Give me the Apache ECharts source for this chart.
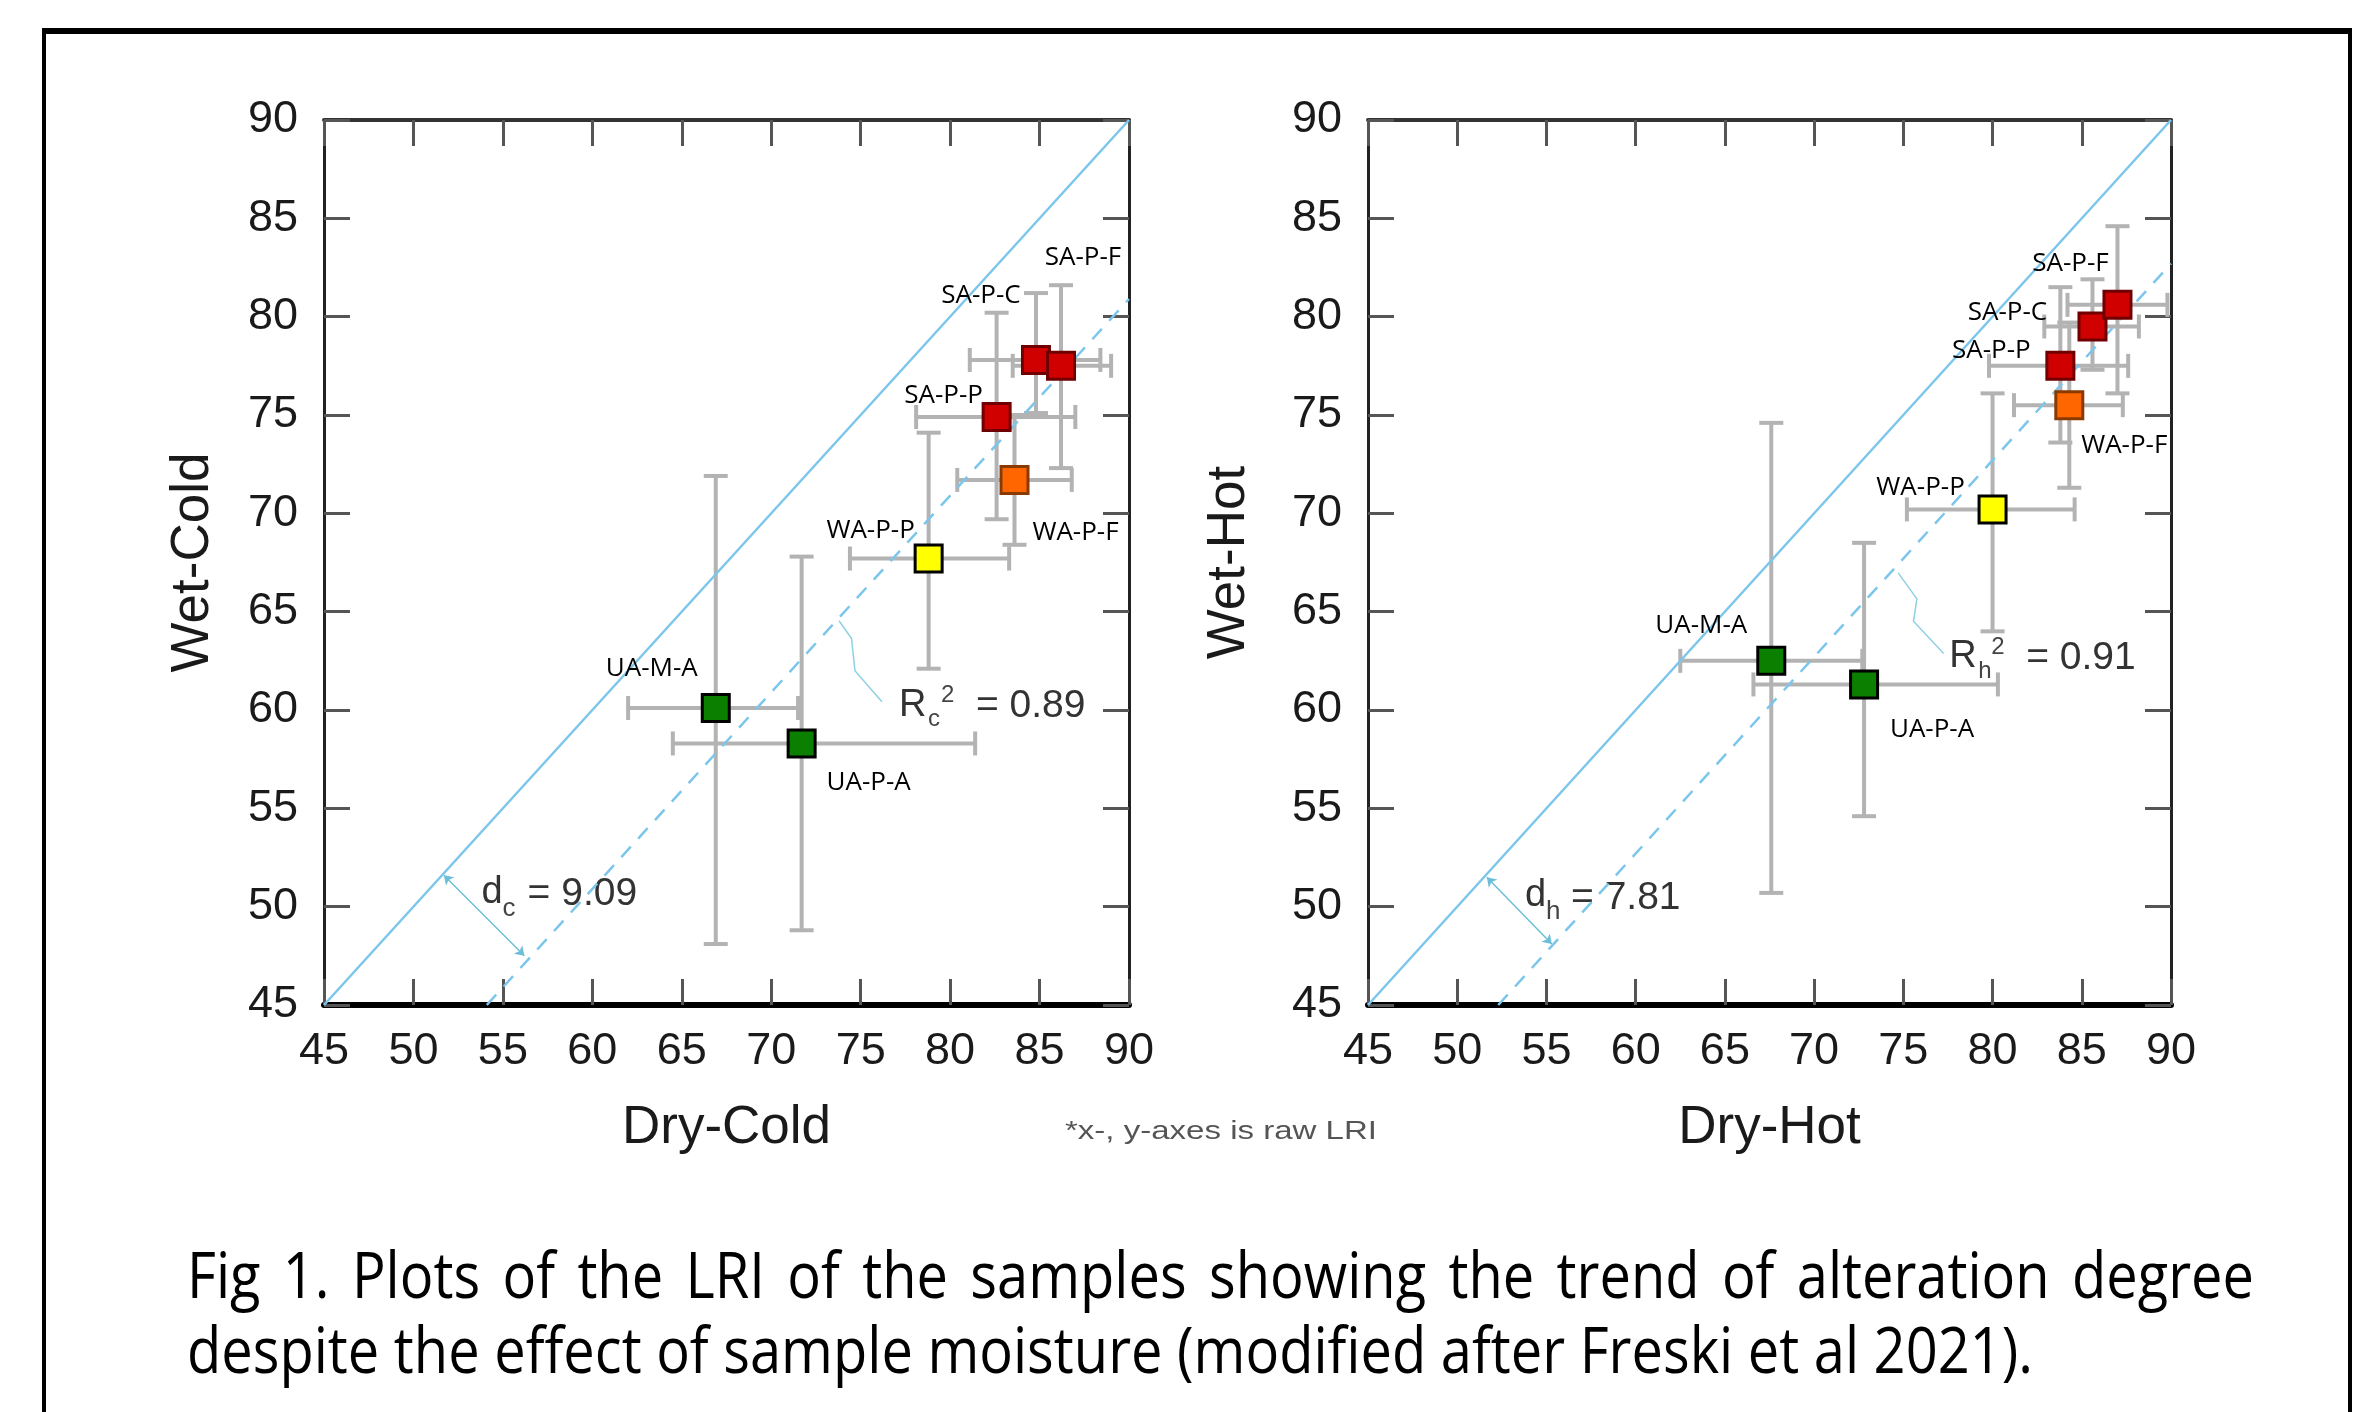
<!DOCTYPE html>
<html><head><meta charset="utf-8">
<script src="https://cdn.jsdelivr.net/npm/echarts/dist/echarts.min.js"></script>
<style>html,body{margin:0;padding:0;background:#fff;}#c{width:2366px;height:1412px;}</style>
</head><body><div id="c"></div>
<script>
// ---------- data ----------
const samples = ['UA-M-A','UA-P-A','WA-P-P','WA-P-F','SA-P-P','SA-P-C','SA-P-F'];
const sampleColors = ['#0b7f00','#0b7f00','#ffff00','#ff6600','#d10000','#d10000','#d10000'];
const sampleBorders = ['#000','#000','#000','#8a3a00','#700000','#700000','#700000'];

// Cold plot
const dryCold        = [66.9, 71.7, 78.8, 83.6, 82.6, 84.8, 86.2];
const wetCold        = [60.1, 58.3, 67.7, 71.7, 74.9, 77.8, 77.5];
const dryColdErrLow  = [62.0, 64.5, 74.4, 80.4, 78.1, 81.1, 83.5];
const dryColdErrHigh = [71.5, 81.4, 83.3, 86.8, 87.0, 88.4, 89.0];
const wetColdErrLow  = [48.1, 48.8, 62.1, 68.4, 69.7, 75.1, 72.3];
const wetColdErrHigh = [71.9, 67.8, 74.1, 75.0, 80.2, 81.2, 81.6];
const coldTrendOffset = 9.1;

// Hot plot
const dryHot        = [67.6, 72.8, 80.0, 84.3, 83.8, 85.6, 87.0];
const wetHot        = [62.5, 61.3, 70.2, 75.5, 77.5, 79.5, 80.6];
const dryHotErrLow  = [62.5, 66.6, 75.2, 81.2, 79.8, 82.9, 84.2];
const dryHotErrHigh = [72.7, 80.3, 84.6, 87.3, 87.6, 88.2, 89.8];
const wetHotErrLow  = [50.7, 54.6, 64.0, 71.3, 73.6, 77.3, 76.1];
const wetHotErrHigh = [74.6, 68.5, 76.1, 79.7, 81.5, 81.9, 84.6];
const hotTrendOffset = 7.3;

const axisMin = 45, axisMax = 90, axisStep = 5;
const xNames = ['Dry-Cold','Dry-Hot'];
const yNames = ['Wet-Cold','Wet-Hot'];

// annotation anchors (data coords)
const dArrowCold = [[51.7, 51.6],[56.2, 47.5]];
const dArrowHot  = [[51.66, 51.5],[55.3, 48.1]];
const rCurveCold = [[76.19, 60.42],[74.68, 62.0],[74.49, 63.63],[73.79, 64.54]];
const rCurveHot  = [[77.26, 62.87],[75.57, 64.51],[75.76, 65.65],[74.71, 66.97]];
const dTextAnchor = [[53.81, 50.71],[53.80, 50.55]];
const rTextAnchor = [[77.14, 60.22],[77.57, 62.70]];
const dTexts = [['d','c','= 9.09'],['d','h','= 7.81']];
const rTexts = [['R','c','2','= 0.89'],['R','h','2','= 0.91']];

const footnote = '*x-, y-axes is raw LRI';
const captionLines = ['Fig 1. Plots of the LRI of the samples showing the trend of alteration degree',
                      'despite the effect of sample moisture (modified after Freski et al 2021).'];

// label offsets (layout, px)
const labelOffsets = [
  [[-64,-39],[67,39],[-58,-28],[61,53],[-53,-21],[-55,-64],[22,-108]],
  [[-70,-35],[68,45],[-72,-22],[55,40],[-69,-15],[-85,-14],[-47,-41]]
];

// ---------- build ----------
const chart = echarts.init(document.getElementById('c'));
const FONT = 'Liberation Sans';
const grids = [
  {left: 324, top: 120, width: 805, height: 885},
  {left: 1368, top: 120, width: 803, height: 885}
];
const xAxes = [], yAxes = [], series = [];
const plots = [
  {dx: dryCold, wy: wetCold, xl: dryColdErrLow, xh: dryColdErrHigh, yl: wetColdErrLow, yh: wetColdErrHigh, off: coldTrendOffset, dArrow: dArrowCold, rCurve: rCurveCold},
  {dx: dryHot, wy: wetHot, xl: dryHotErrLow, xh: dryHotErrHigh, yl: wetHotErrLow, yh: wetHotErrHigh, off: hotTrendOffset, dArrow: dArrowHot, rCurve: rCurveHot}
];

function errRender(params, api) {
  const x = api.value(0), y = api.value(1);
  const p = api.coord([x, y]);
  const xl = api.coord([api.value(2), y])[0];
  const xh = api.coord([api.value(3), y])[0];
  const yl = api.coord([x, api.value(4)])[1];
  const yh = api.coord([x, api.value(5)])[1];
  const c = 12;
  const style = {stroke: '#b3b3b3', lineWidth: 4};
  const L = (x1,y1,x2,y2) => ({type:'line', shape:{x1,y1,x2,y2}, style});
  return {type:'group', children:[
    L(xl,p[1],xh,p[1]), L(xl,p[1]-c,xl,p[1]+c), L(xh,p[1]-c,xh,p[1]+c),
    L(p[0],yl,p[0],yh), L(p[0]-c,yl,p[0]+c,yl), L(p[0]-c,yh,p[0]+c,yh)
  ]};
}

plots.forEach((pl, i) => {
  const axBase = {gridIndex: i, type: 'value', min: axisMin, max: axisMax, interval: axisStep, splitLine: {show: false}};
  xAxes.push(Object.assign({}, axBase, {
    position: 'bottom',
    axisLine: {show: true, onZero: false, lineStyle: {color: '#000', width: 6}},
    axisTick: {show: true, inside: true, length: 26, lineStyle: {color: '#555', width: 3}},
    axisLabel: {fontSize: 45, color: '#1a1a1a', margin: 24, fontFamily: FONT},
    name: xNames[i], nameLocation: 'middle', nameGap: 97,
    nameTextStyle: {fontSize: 53, color: '#1a1a1a', fontFamily: FONT}
  }));
  xAxes.push(Object.assign({}, axBase, {
    position: 'top',
    axisLine: {show: true, onZero: false, lineStyle: {color: '#333', width: 4}},
    axisTick: {show: true, inside: true, length: 26, lineStyle: {color: '#555', width: 3}},
    axisLabel: {show: false}
  }));
  yAxes.push(Object.assign({}, axBase, {
    position: 'left',
    axisLine: {show: true, onZero: false, lineStyle: {color: '#222', width: 3}},
    axisTick: {show: true, inside: true, length: 26, lineStyle: {color: '#555', width: 3}},
    axisLabel: {fontSize: 45, color: '#1a1a1a', margin: 26, fontFamily: FONT},
    name: yNames[i], nameLocation: 'middle', nameGap: i === 0 ? 104 : 112,
    nameTextStyle: {fontSize: 53, color: '#1a1a1a', fontFamily: FONT}
  }));
  yAxes.push(Object.assign({}, axBase, {
    position: 'right',
    axisLine: {show: true, onZero: false, lineStyle: {color: '#222', width: 3}},
    axisTick: {show: true, inside: true, length: 26, lineStyle: {color: '#555', width: 3}},
    axisLabel: {show: false}
  }));
  const xi = i * 2, yi = i * 2;
  series.push({
    type: 'custom', xAxisIndex: xi, yAxisIndex: yi, renderItem: errRender, z: 2,
    encode: {x: 0, y: 1},
    data: samples.map((s, k) => [pl.dx[k], pl.wy[k], pl.xl[k], pl.xh[k], pl.yl[k], pl.yh[k]])
  });
  series.push({
    type: 'line', xAxisIndex: xi, yAxisIndex: yi, symbol: 'none', z: 3, silent: true,
    lineStyle: {color: '#7cc6ec', width: 2.5},
    data: [[axisMin, axisMin], [axisMax, axisMax]]
  });
  series.push({
    type: 'line', xAxisIndex: xi, yAxisIndex: yi, symbol: 'none', z: 3, silent: true,
    lineStyle: {color: '#7cc6ec', width: 2.5, type: [14, 11]},
    data: [[axisMin + pl.off, axisMin], [axisMax, axisMax - pl.off]]
  });
  series.push({
    type: 'lines', coordinateSystem: 'cartesian2d', xAxisIndex: xi, yAxisIndex: yi, z: 3,
    symbol: ['arrow', 'arrow'], symbolSize: 9,
    lineStyle: {color: '#6cbfd6', width: 1.5, opacity: 1},
    data: [{coords: pl.dArrow}]
  });
  series.push({
    type: 'lines', coordinateSystem: 'cartesian2d', xAxisIndex: xi, yAxisIndex: yi, z: 3,
    polyline: true, symbol: ['none', 'arrow'], symbolSize: 9,
    lineStyle: {color: '#8fd0e2', width: 1.5, opacity: 1},
    data: [{coords: pl.rCurve}]
  });
  series.push({
    type: 'scatter', xAxisIndex: xi, yAxisIndex: yi, z: 5, symbol: 'rect', symbolSize: 27,
    data: samples.map((s, k) => ({
      name: s, value: [pl.dx[k], pl.wy[k]],
      itemStyle: {color: sampleColors[k], borderColor: sampleBorders[k], borderWidth: 3, opacity: 1},
      label: {show: true, formatter: s, position: 'inside', offset: labelOffsets[i][k],
              fontSize: 26, color: '#000', fontFamily: 'Open Sans'}
    }))
  });
});

chart.setOption({
  animation: false,
  backgroundColor: '#fff',
  grid: grids,
  xAxis: xAxes,
  yAxis: yAxes,
  series: series
});

// ---------- annotations & text ----------
const g = [];
// frame
g.push({type:'line', shape:{x1:42, y1:31, x2:2352, y2:31}, style:{stroke:'#000', lineWidth:6}});
g.push({type:'line', shape:{x1:44, y1:28, x2:44, y2:1412}, style:{stroke:'#000', lineWidth:4}});
g.push({type:'line', shape:{x1:2350, y1:28, x2:2350, y2:1412}, style:{stroke:'#000', lineWidth:4}});

function txt(x, y, text, size, color, family, extra) {
  return Object.assign({type:'text', x, y, style:{text, font: size + 'px "' + (family || FONT) + '"', fill: color || '#333', textAlign:'left', textVerticalAlign:'middle'}}, extra || {});
}
for (let i = 0; i < 2; i++) {
  const d = chart.convertToPixel({gridIndex: i}, dTextAnchor[i]);
  g.push(txt(d[0], d[1], dTexts[i][0], 38, '#333'));
  g.push(txt(d[0] + 21, d[1] + 16, dTexts[i][1], 26, '#444'));
  g.push(txt(d[0] + 46, d[1] + 2, dTexts[i][2], 39, '#333'));
  const r = chart.convertToPixel({gridIndex: i}, rTextAnchor[i]);
  g.push(txt(r[0], r[1], rTexts[i][0], 38, '#333'));
  g.push(txt(r[0] + 29, r[1] + 14, rTexts[i][1], 24, '#444'));
  g.push(txt(r[0] + 42, r[1] - 10, rTexts[i][2], 24, '#444'));
  g.push(txt(r[0] + 77, r[1] + 1, rTexts[i][3], 39, '#333'));
}
// footnote
g.push(txt(1065, 1132, footnote, 26, '#555', FONT, {scaleX: 1.27}));

// caption (justified first line)
const cv = document.createElement('canvas').getContext('2d');
const capSize = 64, capFam = 'Open Sans';
cv.font = capSize + 'px "' + capFam + '"';
const capLeft = 187, line1Right = 2254, line2Width = 1846;
const sx = line2Width / cv.measureText(captionLines[1]).width;
const words = captionLines[0].split(' ');
const ww = words.map(w => cv.measureText(w).width * sx);
const gap = (line1Right - capLeft - ww.reduce((a, b) => a + b, 0)) / (words.length - 1);
let cx = capLeft;
words.forEach((w, k) => {
  g.push(txt(cx, 1280, w, capSize, '#000', capFam, {scaleX: sx}));
  cx += ww[k] + gap;
});
g.push(txt(capLeft, 1355, captionLines[1], capSize, '#000', capFam, {scaleX: sx}));

chart.setOption({graphic: g});
</script>
</body></html>
